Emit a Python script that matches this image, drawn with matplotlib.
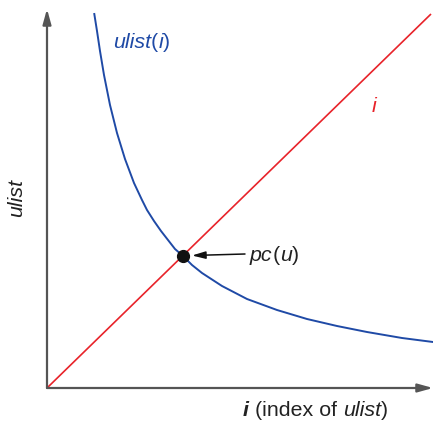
import matplotlib
matplotlib.use("Agg")
import matplotlib.pyplot as plt

# data (arbitrary units; origin at the axes corner)
ulist_i = [47.3, 50, 53, 57, 63, 70, 78, 87, 95, 100, 107, 114, 121, 128, 136,
           145, 155, 175, 200, 230, 260, 290, 320, 355, 386]
ulist_v = [374, 357, 337, 313, 283, 255, 229, 205, 188, 178, 167, 157, 148, 139, 132,
           123, 115, 102, 89, 78, 69, 62, 56, 50, 46]
line_i = [0, 384]
line_v = [0, 374]
pc_point = (136, 132)

BLUE = "#1f4aa6"
RED = "#e8232a"
AXC = "#555555"
TXT = "#222222"

plt.rcParams['font.family'] = ['Liberation Sans', 'DejaVu Sans']

fig = plt.figure(figsize=(4.33, 4.23), dpi=100)
ax = fig.add_axes([0, 0, 1, 1])
ax.set_xlim(-47, 386)
ax.set_ylim(-35, 388)
ax.axis('off')

arrow_kw = dict(arrowstyle='-|>,head_length=0.9,head_width=0.25',
                color=AXC, lw=1.6, shrinkA=0, shrinkB=0)
ax.annotate('', xy=(386, 0), xytext=(0, 0), arrowprops=arrow_kw)
ax.annotate('', xy=(0, 379), xytext=(0, 0), arrowprops=arrow_kw)

ax.plot(line_i, line_v, color=RED, lw=1.2, solid_capstyle='butt')
ax.plot(ulist_i, ulist_v, color=BLUE, lw=1.4)
ax.plot([pc_point[0]], [pc_point[1]], 'o', color='#111111', ms=8.5)

ax.annotate('', xy=(pc_point[0] + 9, pc_point[1] + 0.5), xytext=(198, 134),
            arrowprops=dict(arrowstyle='-|>,head_length=0.8,head_width=0.22',
                            color='#111111', lw=1.1, shrinkA=0, shrinkB=0))

fs = 15.4

def mixed(x, y, parts, color):
    renderer = fig.canvas.get_renderer()
    inv = ax.transData.inverted()
    cur = x
    for s, style, weight in parts:
        tt = ax.text(cur, y, s, fontsize=fs, style=style, weight=weight,
                     color=color, va='center', ha='left')
        bb = tt.get_window_extent(renderer=renderer)
        x0 = inv.transform((bb.x0, bb.y0))[0]
        x1 = inv.transform((bb.x1, bb.y0))[0]
        cur += (x1 - x0)
    return cur

mixed(203, 133, [('pc', 'italic', 'normal'), ('(', 'normal', 'normal'),
                 ('u', 'italic', 'normal'), (')', 'normal', 'normal')], TXT)
mixed(66, 346, [('ulist', 'italic', 'normal'), ('(', 'normal', 'normal'),
                ('i', 'italic', 'normal'), (')', 'normal', 'normal')], BLUE)
ax.text(327, 282, 'i', fontsize=fs, style='italic', color=RED, va='center', ha='center')
mixed(196, -22, [('i', 'italic', 'bold'), (' (index of ', 'normal', 'normal'),
                 ('ulist', 'italic', 'normal'), (')', 'normal', 'normal')], TXT)
ax.text(-30, 190, 'ulist', fontsize=fs, style='italic', color=TXT,
        rotation=90, va='center', ha='center')

fig.savefig('out.png', dpi=100)
